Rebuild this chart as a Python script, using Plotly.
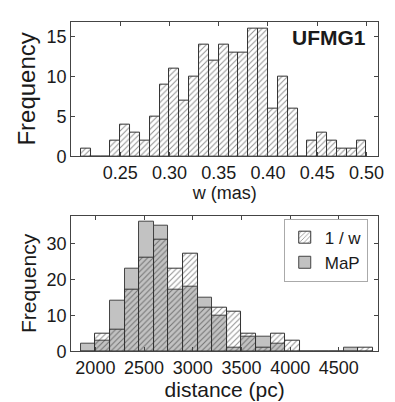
import plotly.graph_objects as go

# ---- data ----
w_counts = [1, 0, 0, 2, 4, 3, 2, 5, 9, 11, 7, 10, 14, 12, 14, 13, 13, 16, 16, 6, 10, 6, 0, 2, 3, 2, 1, 1, 2]
w_bin_start = 0.21
w_bin_width = 0.01

dist_bin_start = 1850
dist_bin_width = 150
inv_w_counts = [0, 5, 6, 17, 26, 31, 23, 27, 12, 12, 11, 5, 1, 5, 3, 0, 0, 0, 0, 1]
map_counts = [2, 3, 14, 23, 36, 35, 17, 18, 15, 10, 1, 4, 4, 2, 0, 0, 0, 0, 1, 0]

w_ticks = [0.25, 0.30, 0.35, 0.40, 0.45, 0.50]
w_ticklabels = ["0.25", "0.30", "0.35", "0.40", "0.45", "0.50"]
d_ticks = [2000, 2500, 3000, 3500, 4000, 4500]

w_centers = [w_bin_start + w_bin_width * (i + 0.5) for i in range(len(w_counts))]
d_centers = [dist_bin_start + dist_bin_width * (i + 0.5) for i in range(len(inv_w_counts))]

FONT = "Liberation Sans, Arial, Helvetica, sans-serif"
TXT = "#1a1a1a"
EDGE = "#333333"
hatch = dict(shape="/", fgcolor="#222222", bgcolor="rgba(255,255,255,0)", size=4, solidity=0.25)

fig = go.Figure()

fig.add_trace(go.Bar(
    x=w_centers, y=w_counts, width=[w_bin_width] * len(w_counts),
    marker=dict(color="white", line=dict(color=EDGE, width=1), pattern=dict(hatch, bgcolor="white")),
    showlegend=False, xaxis="x", yaxis="y"))

fig.add_trace(go.Bar(
    x=d_centers, y=map_counts, width=[dist_bin_width] * len(map_counts), name="MaP",
    marker=dict(color="#c2c2c2", line=dict(color="#444444", width=1)),
    xaxis="x2", yaxis="y2"))

fig.add_trace(go.Bar(
    x=d_centers, y=inv_w_counts, width=[dist_bin_width] * len(inv_w_counts), name="1 / w",
    marker=dict(color="rgba(255,255,255,0)", line=dict(color=EDGE, width=1), pattern=hatch),
    xaxis="x2", yaxis="y2"))

axis_common = dict(showline=True, linecolor="#444444", linewidth=1, mirror="allticks",
                   ticks="inside", ticklen=4, tickcolor="#444444", showgrid=False, zeroline=False,
                   tickfont=dict(family=FONT, size=18, color=TXT))

fig.update_layout(
    width=395, height=402,
    margin=dict(l=0, r=0, t=0, b=0),
    paper_bgcolor="white", plot_bgcolor="white",
    barmode="overlay", bargap=0,
    font=dict(family=FONT, color=TXT),
    xaxis=dict(axis_common, domain=[64 / 395, 376 / 395], range=[0.20, 0.512],
               tickvals=w_ticks, ticktext=w_ticklabels, anchor="y",
               title=dict(text="w (mas)", font=dict(family=FONT, size=18, color=TXT), standoff=0)),
    yaxis=dict(axis_common, domain=[1 - 152 / 402, 1 - 14 / 402], range=[0, 16.85],
               tickvals=[0, 5, 10, 15], anchor="x",
               title=dict(text="Frequency", font=dict(family=FONT, size=24, color=TXT), standoff=3)),
    xaxis2=dict(axis_common, domain=[64 / 395, 376 / 395], range=[1750, 4905],
                tickvals=d_ticks, anchor="y2",
                title=dict(text="distance (pc)", font=dict(family=FONT, size=21, color=TXT), standoff=0)),
    yaxis2=dict(axis_common, domain=[1 - 352 / 402, 1 - 213 / 402], range=[0, 37.7],
                tickvals=[0, 10, 20, 30], anchor="x2",
                title=dict(text="Frequency", font=dict(family=FONT, size=21, color=TXT), standoff=4)),
    legend=dict(x=280 / 395, y=1 - 216 / 402, xanchor="left", yanchor="top",
                bgcolor="white", bordercolor="#aaaaaa", borderwidth=1,
                font=dict(family=FONT, size=17, color=TXT), traceorder="reversed",
                itemwidth=30, tracegroupgap=0),
    annotations=[dict(text="<b>UFMG1</b>", x=366 / 395, y=1 - 30 / 402, xref="paper", yref="paper",
                      xanchor="right", yanchor="middle", showarrow=False,
                      font=dict(family=FONT, size=21, color=TXT))],
)

fig.write_html("out.html")
